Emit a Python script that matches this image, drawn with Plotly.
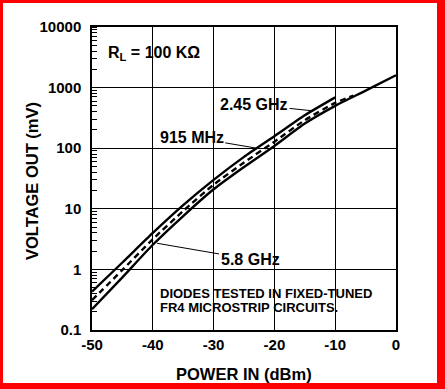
import plotly.graph_objects as go

# ---- data ----
p_upper = [-50, -45, -40, -35, -30, -25, -20, -15, -10]
v_upper = [0.43, 1.3, 4.0, 11.5, 30, 72, 158, 350, 690]

p_dash = [-50, -45, -40, -35, -30, -25, -20, -15, -10, -7]
v_dash = [0.31, 0.98, 3.15, 9.2, 25, 58, 128, 290, 560, 740]

p_lower = [-50, -45, -40, -35, -30, -25, -20, -15, -10, -5, 0]
v_lower = [0.22, 0.74, 2.55, 7.6, 21, 49, 109, 255, 500, 890, 1600]

x_ticks = [-50, -40, -30, -20, -10, 0]
y_ticks = [0.1, 1, 10, 100, 1000, 10000]
y_ticklabels = ["0.1", "1", "10", "100", "1000", "10000"]

FONT = "Liberation Sans, Arial, sans-serif"

fig = go.Figure()
fig.add_trace(go.Scatter(x=p_upper, y=v_upper, mode="lines", name="2.45 GHz",
                         line=dict(color="black", width=2.4, shape="spline", smoothing=0.6)))
fig.add_trace(go.Scatter(x=p_dash, y=v_dash, mode="lines", name="915 MHz",
                         line=dict(color="black", width=2.4, dash="6px,4px", shape="spline", smoothing=0.6)))
fig.add_trace(go.Scatter(x=p_lower, y=v_lower, mode="lines", name="5.8 GHz",
                         line=dict(color="black", width=2.4, shape="spline", smoothing=0.6)))

W, H = 445, 389
L, R, T, B = 92, 49, 27, 59
pw, ph = W - L - R, H - T - B


def px(xp):
    return (xp - L) / pw


def py(yp):
    return (H - B - yp) / ph


fig.update_layout(
    width=W, height=H,
    margin=dict(l=L, r=R, t=T, b=B, pad=0, autoexpand=False),
    paper_bgcolor="white", plot_bgcolor="white",
    showlegend=False,
    font=dict(family=FONT, color="black"),
    xaxis=dict(
        range=[-50, 0], tickvals=x_ticks, ticktext=[str(v) for v in x_ticks],
        showgrid=True, gridcolor="black", gridwidth=1,
        showline=True, linecolor="black", linewidth=1.5, mirror=True,
        ticks="", zeroline=False, automargin=False,
        tickfont=dict(size=15, family=FONT, weight="bold"),
    ),
    yaxis=dict(
        type="log", range=[-1, 4], tickvals=y_ticks, ticktext=y_ticklabels,
        showgrid=True, gridcolor="black", gridwidth=1,
        showline=True, linecolor="black", linewidth=1.5, mirror=True,
        ticks="", zeroline=False, ticklabelstandoff=6, automargin=False,
        tickfont=dict(size=15, family=FONT, weight="bold"),
        minor=dict(ticks="inside", ticklen=5, tickcolor="black", dtick="D1", showgrid=False),
    ),
)

# axis titles as annotations (precise placement)
fig.add_annotation(x=px(244), y=py(374), xref="paper", yref="paper", xanchor="center", yanchor="middle",
                   text="<b>POWER IN (dBm)</b>", showarrow=False, font=dict(size=16.5, family=FONT))
fig.add_annotation(x=px(32), y=py(181), xref="paper", yref="paper", xanchor="center", yanchor="middle",
                   text="<b>VOLTAGE OUT (mV)</b>", textangle=-90, showarrow=False,
                   font=dict(size=16.5, family=FONT))

ann_font = dict(size=16, family=FONT, color="black")
fig.add_annotation(x=px(106), y=py(54), xref="paper", yref="paper", xanchor="left", yanchor="middle",
                   text="<b>R<sub>L</sub> = 100 KΩ</b>", showarrow=False, font=ann_font)

fig.add_annotation(x=-13.8, y=2.618, xref="x", yref="y", text="<b>2.45 GHz</b>", font=ann_font,
                   showarrow=True, arrowhead=0, arrowwidth=1, arrowcolor="black",
                   axref="pixel", ayref="pixel", ax=-58, ay=-6)
fig.add_annotation(x=-22.9, y=2.0, xref="x", yref="y", text="<b>915 MHz</b>", font=ann_font,
                   showarrow=True, arrowhead=0, arrowwidth=1, arrowcolor="black",
                   axref="pixel", ayref="pixel", ax=-65, ay=-11)
fig.add_annotation(x=-39.3, y=0.431, xref="x", yref="y", text="<b>5.8 GHz</b>", font=ann_font,
                   showarrow=True, arrowhead=0, arrowwidth=1, arrowcolor="black",
                   axref="pixel", ayref="pixel", ax=93, ay=16)

foot_font = dict(size=13, family=FONT, color="black")
fig.add_annotation(x=px(158), y=py(293.5), xref="paper", yref="paper", xanchor="left", yanchor="middle",
                   text="<b>DIODES TESTED IN FIXED-TUNED</b>", showarrow=False, font=foot_font)
fig.add_annotation(x=px(158), y=py(307), xref="paper", yref="paper", xanchor="left", yanchor="middle",
                   text="<b>FR4 MICROSTRIP CIRCUITS.</b>", showarrow=False, font=foot_font)

# red frame around the picture
red = "#ff0000"
for (x0, y0, x1, y1) in [(0, 0, 3, H), (0, 0, W, 3), (437, 0, W, H), (0, 383, W, H)]:
    fig.add_shape(type="rect", xref="paper", yref="paper",
                  x0=px(x0), x1=px(x1), y0=py(y1), y1=py(y0),
                  fillcolor=red, line=dict(width=0), layer="above")

fig.write_html("out.html", config={"displayModeBar": False},
               post_script="document.body.style.margin='0px';document.body.style.overflow='hidden';")
